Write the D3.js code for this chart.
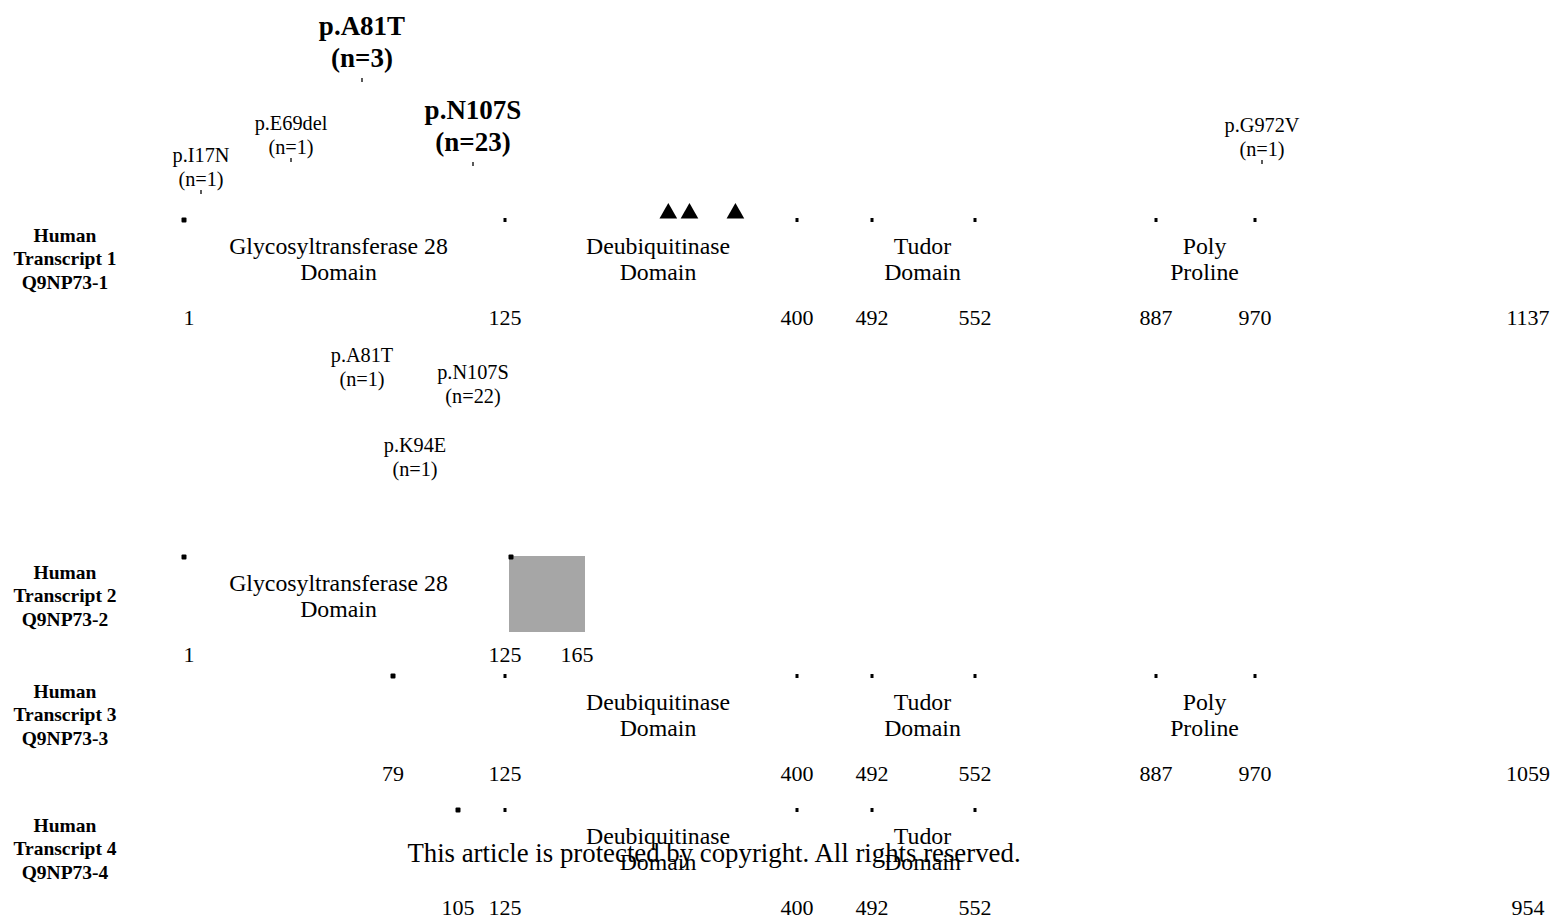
<!DOCTYPE html>
<html>
<head>
<meta charset="utf-8">
<script src="https://cdn.jsdelivr.net/npm/d3@7"></script>
<style>
  html, body { margin: 0; padding: 0; background: #fff; }
  svg { display: block; }
  text { font-family: "Liberation Serif", "Times New Roman", serif; fill: #000; }
</style>
</head>
<body>
<svg id="chart" width="1556" height="918"></svg>
<script>
// ---------------- DATA ----------------
const transcriptNames = ["Transcript 1", "Transcript 2", "Transcript 3", "Transcript 4"];
const isoformIds = ["Q9NP73-1", "Q9NP73-2", "Q9NP73-3", "Q9NP73-4"];
const boundaryPositions = [
  [1, 125, 400, 492, 552, 887, 970],
  [1, 125],
  [79, 125, 400, 492, 552, 887, 970],
  [105, 125, 400, 492, 552]
];
const startMarkers = [[1], [1, 125], [79], [105]];
const positionLabels = [
  [1, 125, 400, 492, 552, 887, 970],
  [1, 125, 165],
  [79, 125, 400, 492, 552, 887, 970],
  [105, 125, 400, 492, 552]
];
const proteinLengths = [1137, null, 1059, 954];
const domainNames = [["Glycosyltransferase 28", "Domain"], ["Deubiquitinase", "Domain"], ["Tudor", "Domain"], ["Poly", "Proline"]];
const domainStarts = [1, 125, 492, 887];
const domainEnds = [125, 400, 552, 970];
const transcriptDomains = [[0, 1, 2, 3], [0], [1, 2, 3], [1, 2]];
const altExonStart = 125, altExonEnd = 165;           // transcript 2 unique region
const catalyticSites = [260, 283, 333];              // triangles in transcript 1

const mutAboveNames = ["p.I17N", "p.E69del", "p.A81T", "p.N107S", "p.G972V"];
const mutAbovePos = [17, 69, 81, 107, 972];
const mutAboveCounts = [1, 1, 3, 23, 1];
const mutBelowNames = ["p.A81T", "p.N107S", "p.K94E"];
const mutBelowPos = [81, 107, 94];
const mutBelowCounts = [1, 22, 1];
const watermark = "This article is protected by copyright. All rights reserved.";

// ---------------- LAYOUT ----------------
const rowY = [220, 557, 676, 810];
const mutTickY = [192, 160, 80, 164, 162];
const mutBelowY = [355, 372, 445];

const svg = d3.select("#chart");
// piecewise position scale (figure is not drawn to linear scale)
const x = d3.scaleLinear()
  .domain([1, 79, 105, 125, 165, 400, 492, 552, 887, 970, 1137])
  .range([184, 393, 458, 505, 581, 797, 872, 975, 1156, 1255, 1528]);
// mutation annotation scale
const mx = d3.scaleLinear()
  .domain([17, 69, 81, 94, 107, 972])
  .range([201, 291, 362, 415, 473, 1262]);

// ---------------- ROWS ----------------
transcriptNames.forEach((tn, i) => {
  const g = svg.append("g").attr("transform", `translate(0,${rowY[i]})`);
  // row label
  const lbl = g.append("text").attr("text-anchor", "middle").attr("font-weight", "bold")
    .attr("font-size", 19.5).attr("dominant-baseline", "central");
  ["Human", tn, isoformIds[i]].forEach((t, k) => {
    lbl.append("tspan").attr("x", 65).attr("y", 14.5 + k * 23.5).text(t);
  });

  // alt exon box
  if (i === 1) {
    g.append("rect").attr("x", x(altExonStart) + 4).attr("y", -1)
      .attr("width", x(altExonEnd) - x(altExonStart)).attr("height", 76)
      .attr("fill", "#a6a6a6");
  }

  // boundary dots
  boundaryPositions[i].forEach(p => {
    const big = startMarkers[i].includes(p);
    const px = x(p) + (i === 1 && p === 125 ? 6 : 0);
    if (big) {
      g.append("rect").attr("x", px - 2.5).attr("y", -2.5).attr("width", 5).attr("height", 5)
        .attr("rx", 1).attr("fill", "#000");
    } else {
      g.append("rect").attr("x", px - 1.5).attr("y", -2).attr("width", 3).attr("height", 4)
        .attr("fill", "#000");
    }
  });

  // domain labels
  transcriptDomains[i].forEach(d => {
    const cx = (x(domainStarts[d]) + x(domainEnds[d])) / 2 - (d === 0 ? 6 : (d === 1 ? -7 : 1));
    const t = g.append("text").attr("text-anchor", "middle").attr("font-size", 23.8)
      .attr("dominant-baseline", "central");
    domainNames[d].forEach((s, k) => {
      t.append("tspan").attr("x", cx).attr("y", 25.5 + k * 26.5).text(s);
    });
  });

  // position labels
  positionLabels[i].forEach(p => {
    g.append("text").attr("x", x(p) + (p === 1 ? 5 : (p === 165 ? -4 : 0))).attr("y", 97)
      .attr("text-anchor", "middle").attr("font-size", 22).attr("dominant-baseline", "central")
      .text(p);
  });
  if (proteinLengths[i] !== null) {
    g.append("text").attr("x", x(1137)).attr("y", 97)
      .attr("text-anchor", "middle").attr("font-size", 22).attr("dominant-baseline", "central")
      .text(proteinLengths[i]);
  }
});

// catalytic triangles on transcript 1
svg.append("g").selectAll("path").data(catalyticSites).join("path")
  .attr("d", d3.symbol(d3.symbolTriangle, 135))
  .attr("transform", d => `translate(${x(d)},${213.3})`)
  .attr("fill", "#000");

// ---------------- MUTATIONS ABOVE ----------------
mutAboveNames.forEach((m, i) => {
  const bold = mutAboveCounts[i] >= 3;
  const cx = mx(mutAbovePos[i]);
  const ty = mutTickY[i];
  svg.append("line").attr("x1", cx).attr("x2", cx).attr("y1", ty - 2).attr("y2", ty + 2)
    .attr("stroke", "#000").attr("stroke-width", 1.3);
  const t = svg.append("text").attr("text-anchor", "middle")
    .attr("font-size", bold ? 27 : 20.3).attr("font-weight", bold ? "bold" : "normal")
    .attr("dominant-baseline", "central");
  const l2 = bold ? ty - 22 : ty - 13;
  const gap = bold ? 32 : 24;
  t.append("tspan").attr("x", cx).attr("y", l2 - gap).text(m);
  t.append("tspan").attr("x", cx).attr("y", l2).text(`(n=${mutAboveCounts[i]})`);
});

// ---------------- MUTATIONS BELOW ----------------
mutBelowNames.forEach((m, i) => {
  const cx = mx(mutBelowPos[i]);
  const t = svg.append("text").attr("text-anchor", "middle").attr("font-size", 20.3)
    .attr("dominant-baseline", "central");
  t.append("tspan").attr("x", cx).attr("y", mutBelowY[i]).text(m);
  t.append("tspan").attr("x", cx).attr("y", mutBelowY[i] + 24).text(`(n=${mutBelowCounts[i]})`);
});

// watermark
svg.append("text").attr("x", 714).attr("y", 853).attr("text-anchor", "middle")
  .attr("dominant-baseline", "central").attr("font-size", 26.8).text(watermark);
</script>
</body>
</html>
